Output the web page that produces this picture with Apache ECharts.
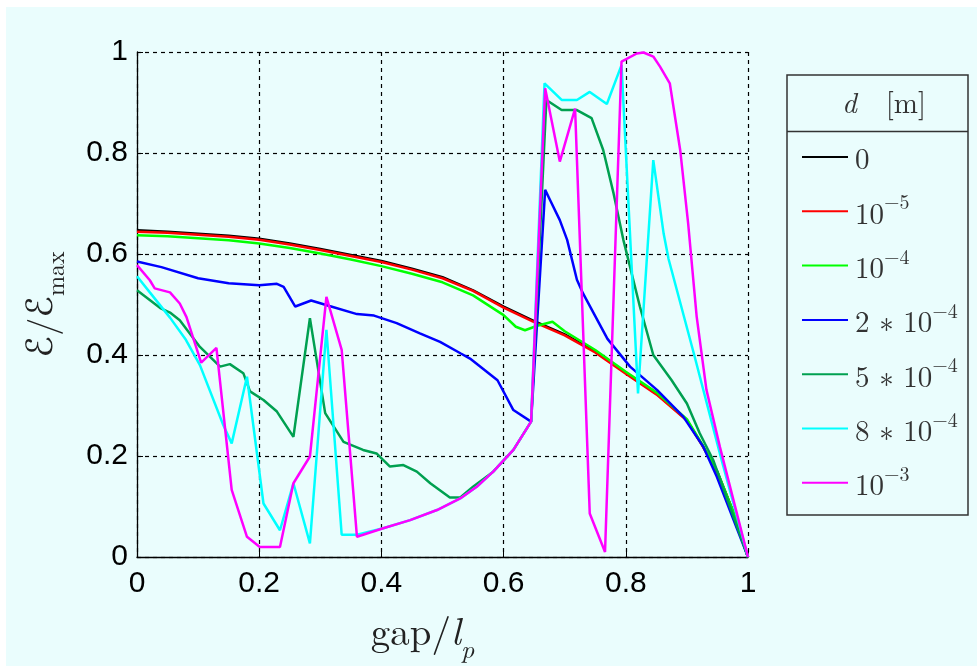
<!DOCTYPE html>
<html>
<head>
<meta charset="utf-8">
<script src="https://cdn.jsdelivr.net/npm/echarts@6/dist/echarts.min.js"></script>
<style>
  html, body { margin: 0; padding: 0; background: #ffffff; overflow: hidden; }
  #bg { position: absolute; left: 6px; top: 7px; width: 971px; height: 659px; background: #eafdfd; }
  #chart { position: absolute; left: 0; top: 0; width: 977px; height: 666px; }
</style>
</head>
<body>
<div id="bg"></div>
<div id="chart"></div>
<script>
// Normalised energy E/Emax versus gap/l_p for several values of d [m]

const xTicks = [0, 0.2, 0.4, 0.6, 0.8, 1];
const yTicks = [0, 0.2, 0.4, 0.6, 0.8, 1];

// d = 0
const gap0 = [0, 0.05, 0.1, 0.15, 0.2, 0.25, 0.3, 0.35, 0.4, 0.45, 0.5, 0.55, 0.6, 0.65, 0.7, 0.75, 0.8, 0.85, 0.9, 0.925, 0.95, 0.975, 1];
const e0   = [0.647, 0.644, 0.640, 0.636, 0.630, 0.621, 0.610, 0.598, 0.586, 0.571, 0.554, 0.528, 0.496, 0.467, 0.441, 0.407, 0.365, 0.324, 0.271, 0.222, 0.168, 0.092, 0];

// d = 1e-5
const gap1 = [0, 0.05, 0.1, 0.15, 0.2, 0.25, 0.3, 0.35, 0.4, 0.45, 0.5, 0.55, 0.6, 0.65, 0.7, 0.75, 0.8, 0.85, 0.9, 0.925, 0.95, 0.975, 1];
const e1   = [0.644, 0.642, 0.638, 0.634, 0.628, 0.619, 0.608, 0.596, 0.584, 0.569, 0.552, 0.527, 0.494, 0.465, 0.439, 0.405, 0.363, 0.322, 0.270, 0.221, 0.167, 0.091, 0];

// d = 1e-4
const gap2 = [0, 0.05, 0.1, 0.15, 0.2, 0.25, 0.3, 0.35, 0.4, 0.45, 0.5, 0.55, 0.6, 0.62, 0.635, 0.655, 0.68, 0.7, 0.75, 0.8, 0.85, 0.9, 0.925, 0.95, 0.975, 1];
const e2   = [0.637, 0.635, 0.631, 0.627, 0.621, 0.612, 0.601, 0.589, 0.576, 0.561, 0.544, 0.518, 0.479, 0.456, 0.449, 0.458, 0.466, 0.447, 0.410, 0.367, 0.326, 0.273, 0.223, 0.169, 0.092, 0];

// d = 2e-4
const gap3 = [0, 0.04, 0.1, 0.15, 0.2, 0.229, 0.24, 0.259, 0.285, 0.315, 0.36, 0.388, 0.425, 0.463, 0.496, 0.53, 0.545, 0.59, 0.616, 0.645, 0.668, 0.676, 0.692, 0.704, 0.72, 0.73, 0.77, 0.807, 0.851, 0.894, 0.927, 0.949, 1];
const e3   = [0.585, 0.574, 0.552, 0.542, 0.538, 0.541, 0.535, 0.496, 0.508, 0.497, 0.481, 0.478, 0.463, 0.443, 0.426, 0.403, 0.393, 0.350, 0.291, 0.268, 0.727, 0.707, 0.667, 0.628, 0.549, 0.522, 0.432, 0.377, 0.331, 0.278, 0.218, 0.159, 0];

// d = 5e-4
const gap4 = [0, 0.038, 0.054, 0.07, 0.103, 0.136, 0.152, 0.174, 0.185, 0.207, 0.229, 0.256, 0.283, 0.308, 0.338, 0.37, 0.392, 0.414, 0.436, 0.458, 0.48, 0.512, 0.529, 0.55, 0.583, 0.616, 0.645, 0.67, 0.695, 0.72, 0.744, 0.763, 0.78, 0.796, 0.823, 0.845, 0.875, 0.9, 0.921, 0.943, 1];
const e4   = [0.528, 0.493, 0.484, 0.469, 0.416, 0.377, 0.382, 0.364, 0.328, 0.311, 0.288, 0.238, 0.473, 0.285, 0.228, 0.212, 0.205, 0.179, 0.182, 0.169, 0.146, 0.118, 0.118, 0.139, 0.169, 0.212, 0.268, 0.905, 0.885, 0.885, 0.869, 0.806, 0.720, 0.628, 0.496, 0.400, 0.350, 0.304, 0.245, 0.192, 0];

// d = 8e-4
const gap5 = [0, 0.021, 0.054, 0.08, 0.103, 0.141, 0.155, 0.18, 0.207, 0.234, 0.256, 0.283, 0.31, 0.335, 0.36, 0.403, 0.447, 0.491, 0.529, 0.556, 0.583, 0.616, 0.645, 0.667, 0.695, 0.72, 0.741, 0.769, 0.793, 0.82, 0.845, 0.862, 0.87, 0.912, 0.955, 1];
const e5   = [0.556, 0.524, 0.474, 0.430, 0.380, 0.262, 0.225, 0.357, 0.106, 0.053, 0.146, 0.027, 0.450, 0.044, 0.044, 0.057, 0.073, 0.093, 0.116, 0.139, 0.169, 0.212, 0.268, 0.938, 0.905, 0.905, 0.921, 0.897, 0.974, 0.324, 0.786, 0.640, 0.590, 0.400, 0.200, 0];

// d = 1e-3
const gap6 = [0, 0.021, 0.029, 0.054, 0.07, 0.081, 0.105, 0.13, 0.155, 0.18, 0.201, 0.234, 0.256, 0.283, 0.31, 0.335, 0.36, 0.403, 0.447, 0.491, 0.529, 0.556, 0.583, 0.616, 0.645, 0.668, 0.692, 0.717, 0.741, 0.766, 0.793, 0.818, 0.829, 0.845, 0.856, 0.872, 0.889, 0.902, 0.916, 0.932, 0.954, 1];
const e6   = [0.578, 0.548, 0.532, 0.524, 0.502, 0.475, 0.385, 0.414, 0.133, 0.040, 0.020, 0.020, 0.146, 0.199, 0.515, 0.410, 0.040, 0.057, 0.073, 0.093, 0.116, 0.139, 0.169, 0.212, 0.268, 0.928, 0.783, 0.888, 0.086, 0.010, 0.981, 0.997, 0.999, 0.991, 0.971, 0.938, 0.806, 0.661, 0.476, 0.331, 0.218, 0];

const seriesNames = ['0', '1e-5', '1e-4', '2e-4', '5e-4', '8e-4', '1e-3'];
const seriesColors = ['#000000', '#ff0000', '#00ff00', '#0000ff', '#00a050', '#00ffff', '#ff00ff'];
const gaps = [gap0, gap1, gap2, gap3, gap4, gap5, gap6];
const energies = [e0, e1, e2, e3, e4, e5, e6];

// legend label markup: mantissa, base and exponent as rich text
const legendLabels = {
  '0': '{n|0}',
  '1e-5': '{n|10}{s|\u22125}',
  '1e-4': '{n|10}{s|\u22124}',
  '2e-4': '{n|2 \u2217 10}{s|\u22124}',
  '5e-4': '{n|5 \u2217 10}{s|\u22124}',
  '8e-4': '{n|8 \u2217 10}{s|\u22124}',
  '1e-3': '{n|10}{s|\u22123}'
};

const serif = '"Latin Modern Roman", "CMU Serif", "DejaVu Serif", "Liberation Serif", serif';
const script = '"DejaVu Sans", "DejaVu Serif", serif';
const sans = '"Liberation Sans", Arial, Helvetica, sans-serif';

const chart = echarts.init(document.getElementById('chart'), null, { renderer: 'canvas' });

const series = seriesNames.map((name, i) => ({
  name: name,
  type: 'line',
  data: gaps[i].map((g, k) => [g, energies[i][k]]),
  showSymbol: false,
  symbol: 'none',
  lineStyle: { color: seriesColors[i], width: 2.5 },
  itemStyle: { color: seriesColors[i] },
  z: 3 + i,
  silent: true
}));

const gridLine = { show: true, lineStyle: { color: '#000', type: [4, 4], width: 1.2 } };

chart.setOption({
  animation: false,
  backgroundColor: 'transparent',
  grid: { left: 137, top: 52, width: 611, height: 505, containLabel: false, outerBoundsMode: 'none' },
  xAxis: {
    type: 'value',
    min: 0, max: 1, interval: 0.2,
    axisLine: { show: true, onZero: false, lineStyle: { color: '#000', width: 1.3 } },
    axisTick: { show: true, inside: true, length: 6, lineStyle: { color: '#000' } },
    axisLabel: {
      color: '#000', fontFamily: sans, fontSize: 30, margin: 12,
      formatter: v => xTicks.includes(+v.toFixed(1)) ? String(+v.toFixed(1)) : ''
    },
    splitLine: gridLine,
    name: '{r|gap/}{i|l}{sub|p}',
    nameLocation: 'middle',
    nameGap: 52,
    nameTextStyle: {
      padding: [0, 40, 0, 0],
      rich: {
        r: { fontFamily: serif, fontSize: 39, color: '#222', lineHeight: 44, verticalAlign: 'bottom' },
        i: { fontFamily: serif, fontSize: 39, fontStyle: 'italic', color: '#222', lineHeight: 44, verticalAlign: 'bottom' },
        sub: { fontFamily: serif, fontSize: 26, fontStyle: 'italic', color: '#222', lineHeight: 28, verticalAlign: 'bottom', padding: [0, 0, -10, 0] }
      }
    }
  },
  yAxis: {
    type: 'value',
    min: 0, max: 1, interval: 0.2,
    axisLine: { show: true, onZero: false, lineStyle: { color: '#000', width: 1.3 } },
    axisTick: { show: true, inside: true, length: 6, lineStyle: { color: '#000' } },
    axisLabel: {
      color: '#000', fontFamily: sans, fontSize: 30, margin: 9,
      formatter: v => yTicks.includes(+v.toFixed(1)) ? String(+v.toFixed(1)) : ''
    },
    splitLine: gridLine,
    name: '{e|\u2130}{r|/}{e|\u2130}{sub|max}',
    nameLocation: 'middle',
    nameRotate: 90,
    nameGap: 76,
    nameTextStyle: {
      rich: {
        e: { fontFamily: script, fontSize: 36, color: '#222', lineHeight: 40, verticalAlign: 'bottom' },
        r: { fontFamily: serif, fontSize: 36, color: '#222', lineHeight: 40, verticalAlign: 'bottom' },
        sub: { fontFamily: serif, fontSize: 24, color: '#222', lineHeight: 28, verticalAlign: 'bottom', padding: [0, 0, -8, 0] }
      }
    }
  },
  legend: {
    show: true,
    orient: 'vertical',
    left: 797,
    top: 141,
    itemWidth: 46,
    itemHeight: 14,
    itemGap: 18.3,
    icon: 'path://M0,6 L46,6 L46,8 L0,8 Z',
    data: seriesNames,
    selectedMode: false,
    formatter: name => legendLabels[name],
    textStyle: {
      padding: [0, 0, 0, 2],
      rich: {
        n: { fontFamily: serif, fontSize: 29, color: '#333', lineHeight: 36, verticalAlign: 'bottom' },
        s: { fontFamily: serif, fontSize: 20, color: '#333', lineHeight: 18, verticalAlign: 'top' }
      }
    }
  },
  graphic: [
    {
      type: 'rect',
      shape: { x: 787, y: 75, width: 181, height: 440 },
      style: { fill: null, stroke: '#333', lineWidth: 1.5 },
      z: 1
    },
    {
      type: 'line',
      shape: { x1: 787, y1: 131.5, x2: 968, y2: 131.5 },
      style: { stroke: '#333', lineWidth: 1.5 },
      z: 1
    },
    {
      type: 'text',
      x: 884, y: 104,
      style: {
        text: '{i|d}{n|   [m]}',
        align: 'center',
        verticalAlign: 'middle',
        rich: {
          i: { fontFamily: serif, fontSize: 29, fontStyle: 'italic', fill: '#333' },
          n: { fontFamily: serif, fontSize: 29, fill: '#333' }
        }
      },
      z: 2
    }
  ],
  series: series
});
</script>
</body>
</html>
